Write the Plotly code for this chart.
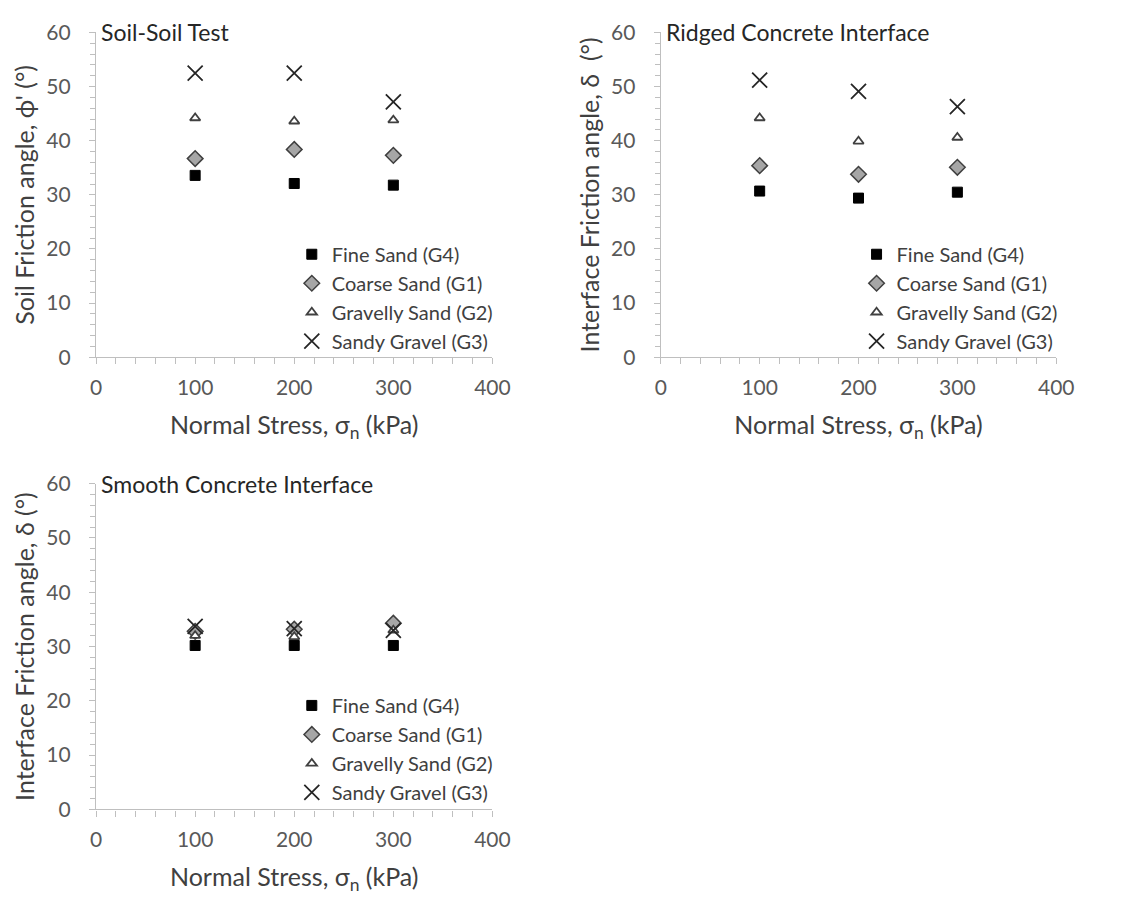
import plotly.graph_objects as go

stress = [100, 200, 300]
series_names = ["Fine Sand (G4)", "Coarse Sand (G1)", "Gravelly Sand (G2)", "Sandy Gravel (G3)"]

# Soil-Soil test
soil_g4 = [33.6, 32.1, 31.8]
soil_g1 = [36.7, 38.4, 37.3]
soil_g2 = [44.2, 43.6, 43.8]
soil_g3 = [52.5, 52.5, 47.2]

# Ridged concrete interface
ridged_g4 = [30.7, 29.4, 30.5]
ridged_g1 = [35.4, 33.8, 35.1]
ridged_g2 = [44.2, 39.9, 40.6]
ridged_g3 = [51.2, 49.1, 46.3]

# Smooth concrete interface
smooth_g4 = [30.2, 30.2, 30.2]
smooth_g1 = [32.8, 33.2, 34.3]
smooth_g2 = [32.0, 31.8, 33.0]
smooth_g3 = [33.7, 33.3, 33.0]

panel_titles = ["Soil-Soil Test", "Ridged Concrete Interface", "Smooth Concrete Interface"]
y_titles = ["Soil Friction angle, ϕ' (°)", "Interface Friction angle, δ  (°)", "Interface Friction angle, δ (°)"]
x_title = "Normal Stress, σ<sub>n</sub> (kPa)"

W, H = 1131, 906
FONT = "Lato"

styles = [
    dict(symbol="square", size=10, color="#000000", line=dict(color="#000000", width=1)),
    dict(symbol="diamond", size=12, color="#a6a6a6", line=dict(color="#404040", width=1.5)),
    dict(symbol="triangle-up", size=9, color="#ffffff", line=dict(color="#404040", width=1.8)),
    dict(symbol="x-thin-open", size=15, color="#262626", line=dict(color="#262626", width=1.8)),
]

panels = [
    (soil_g4, soil_g1, soil_g2, soil_g3),
    (ridged_g4, ridged_g1, ridged_g2, ridged_g3),
    (smooth_g4, smooth_g1, smooth_g2, smooth_g3),
]

# pixel boxes (left, right, top, bottom)
boxes = [(92, 497, 19, 353), (669, 1073, 19, 353), (92, 497, 483, 818)]

fig = go.Figure()
layout = dict(
    width=W, height=H, margin=dict(l=0, r=0, t=0, b=0),
    paper_bgcolor="white", plot_bgcolor="white",
    font=dict(family=FONT, color="#404040"),
    annotations=[],
)

for i, (data, box) in enumerate(zip(panels, boxes)):
    n = "" if i == 0 else str(i + 1)
    xa, ya = "x" + n, "y" + n
    lg = "legend" + n
    for vals, name, st in zip(data, series_names, styles):
        fig.add_trace(go.Scatter(
            x=stress, y=vals, mode="markers", name=name,
            xaxis=xa, yaxis=ya, legend=lg,
            marker=dict(symbol=st["symbol"], size=st["size"], color=st["color"], line=st["line"]),
        ))
    l, r, t, b = box
    layout["xaxis" + n] = dict(
        domain=[l / W, r / W], anchor=ya, range=[0, 400], dtick=100, tick0=0,
        showgrid=False, zeroline=False, showline=True, linecolor="#bfbfbf", linewidth=1.3,
        ticks="outside", ticklen=6, tickcolor="#bfbfbf", tickwidth=1,
        minor=dict(dtick=20, ticks="outside", ticklen=6, tickcolor="#bfbfbf", showgrid=False),
        tickfont=dict(family=FONT, size=21, color="#595959"), ticklabelstandoff=5,
        title=dict(text=x_title, font=dict(family=FONT, size=25, color="#404040"), standoff=18),
    )
    layout["yaxis" + n] = dict(
        domain=[1 - b / H, 1 - t / H], anchor=xa, range=[0, 60], dtick=10, tick0=0,
        showgrid=False, zeroline=False, showline=True, linecolor="#bfbfbf", linewidth=1.3,
        ticks="outside", ticklen=6, tickcolor="#bfbfbf", tickwidth=1,
        minor=dict(dtick=2, ticks="outside", ticklen=5, tickcolor="#bfbfbf", showgrid=False),
        tickfont=dict(family=FONT, size=21, color="#595959"), ticklabelstandoff=14,
        title=dict(text=y_titles[i], font=dict(family=FONT, size=25, color="#404040"), standoff=4),
    )
    layout[lg] = dict(
        x=(l + 200) / W, y=1 - (t + 208) / H, xanchor="left", yanchor="top",
        bgcolor="rgba(0,0,0,0)", font=dict(family=FONT, size=20, color="#404040"),
        tracegroupgap=0, itemwidth=30,
    )
    layout["annotations"].append(dict(
        text=panel_titles[i], xref="paper", yref="paper",
        x=(l + 3) / W, y=1 - t / H, xanchor="left", yanchor="middle",
        showarrow=False, font=dict(family=FONT, size=23, color="#262626"),
    ))

fig.update_layout(**layout)
fig.write_html("out.html")
